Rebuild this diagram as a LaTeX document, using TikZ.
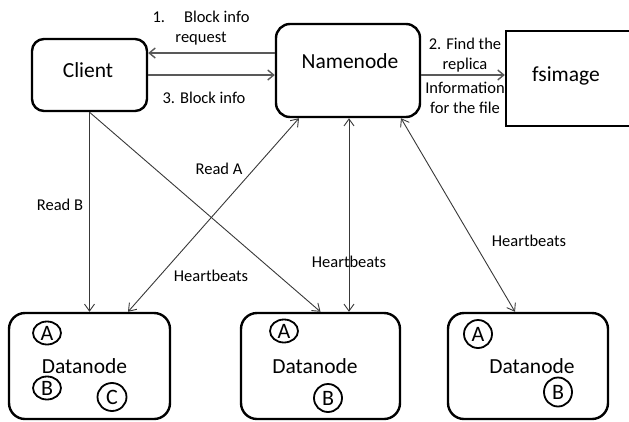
\documentclass[tikz,border=0pt]{standalone}
\usepackage{fontspec}
\setmainfont{Carlito}
\usetikzlibrary{arrows.meta,calc,shapes.geometric}

\tikzset{
  box/.style={draw=black, line width=2.4pt, rounded corners=#1, inner sep=0pt, fill=white},
  box/.default=13pt,
  bigtxt/.style={font=\fontsize{21.5}{24}\selectfont, inner sep=0pt},
  smalltxt/.style={font=\fontsize{16.5}{20}\selectfont, inner sep=0pt, align=center},
  blk/.style={draw=black, line width=1.8pt, ellipse, minimum width=#1},
  msg/.style={draw=black!65, line width=1.8pt, -{Straight Barb[length=6pt,width=10pt,line width=1.4pt]}},
  link/.style={draw=black!78, line width=0.9pt, -{Straight Barb[length=7pt,width=10pt]}},
  both/.style={draw=black!78, line width=0.9pt, {Straight Barb[length=7pt,width=10pt]}-{Straight Barb[length=7pt,width=10pt]}},
}

\begin{document}
\begin{tikzpicture}[x=1pt, y=-1pt]
\useasboundingbox (0,0) rectangle (629,421);

% main boxes
\node[box=12pt, minimum width=115pt, minimum height=72pt] (client) at (89.5,75) {};
\node[bigtxt] (clientT) at (88,70) {Client};

\node[box=14pt, minimum width=144pt, minimum height=93pt] (nn) at (348,70.5) {};
\node[bigtxt] (nnT) at (350,61) {Namenode};

\node[draw=black, line width=2.4pt, minimum width=134pt, minimum height=95pt, inner sep=0pt] (fs) at (573,78.5) {};
\node[bigtxt] (fsT) at (566,76) {fsimage};

% data nodes
\node[box=16pt, minimum width=161pt, minimum height=106pt] (d1) at (89.5,366) {};
\node[box=16pt, minimum width=159pt, minimum height=106pt] (d2) at (320.5,366) {};
\node[box=16pt, minimum width=160pt, minimum height=106pt] (d3) at (528,366) {};

\node[bigtxt] (d1T) at (84.5,366) {Datanode};
\node[bigtxt] (d2T) at (315,366) {Datanode};
\node[bigtxt] (d3T) at (532,366) {Datanode};

% blocks held by each data node
\tikzset{blkA/.style={blk=28pt, minimum height=23pt, inner sep=0pt, font=\fontsize{22}{24}\selectfont}}
\node[blkA] (d1a) at (47,333) {A};
\node[blkA] (d1b) at (47,388) {B};
\node[blkA, minimum width=29pt, minimum height=28pt] (d1c) at (112,397) {C};
\node[blkA] (d2a) at (284,331) {A};
\node[blkA, minimum height=28pt] (d2b) at (328,398) {B};
\node[blkA, minimum height=28pt] (d3a) at (478,334) {A};
\node[blkA, minimum height=29pt] (d3b) at (558,392) {B};

% client <-> namenode <-> fsimage
\draw[msg] ([yshift=17.5pt]nn.west) -- ([yshift=17.5pt]nn.west -| client.east);
\draw[msg] (client.east) -- (client.east -| nn.west);
\draw[msg] ([yshift=-4.5pt]nn.east) -- ([yshift=-4.5pt]nn.east -| fs.west);

\node[smalltxt] (l1) at (201,28) {1.\hspace{19pt}Block info\\request};
\node[smalltxt] (l3) at (204,98) {3. Block info};
\node[smalltxt] (l2) at (465,55) {2. Find the\\replica};
\node[smalltxt] (l4) at (465,98) {Information\\for the file};

% reads and heartbeats
\draw[link] (client.south) -- (d1.north);
\draw[link] (client.south) -- (d2.north);
\draw[both] ([xshift=-49pt]nn.south) -- ([xshift=38.5pt]d1.north);
\draw[both] (nn.south) ++(1pt,0) coordinate (nnm) -- (nnm |- d2.north);
\draw[both] ([xshift=53pt]nn.south) -- ([xshift=-13pt]d3.north);

\node[smalltxt] (rb) at (60,205) {Read B};
\node[smalltxt] (ra) at (219,169) {Read A};
\node[smalltxt] (h1) at (211,276) {Heartbeats};
\node[smalltxt] (h2) at (349,262) {Heartbeats};
\node[smalltxt] (h3) at (529,241) {Heartbeats};
\end{tikzpicture}
\end{document}
